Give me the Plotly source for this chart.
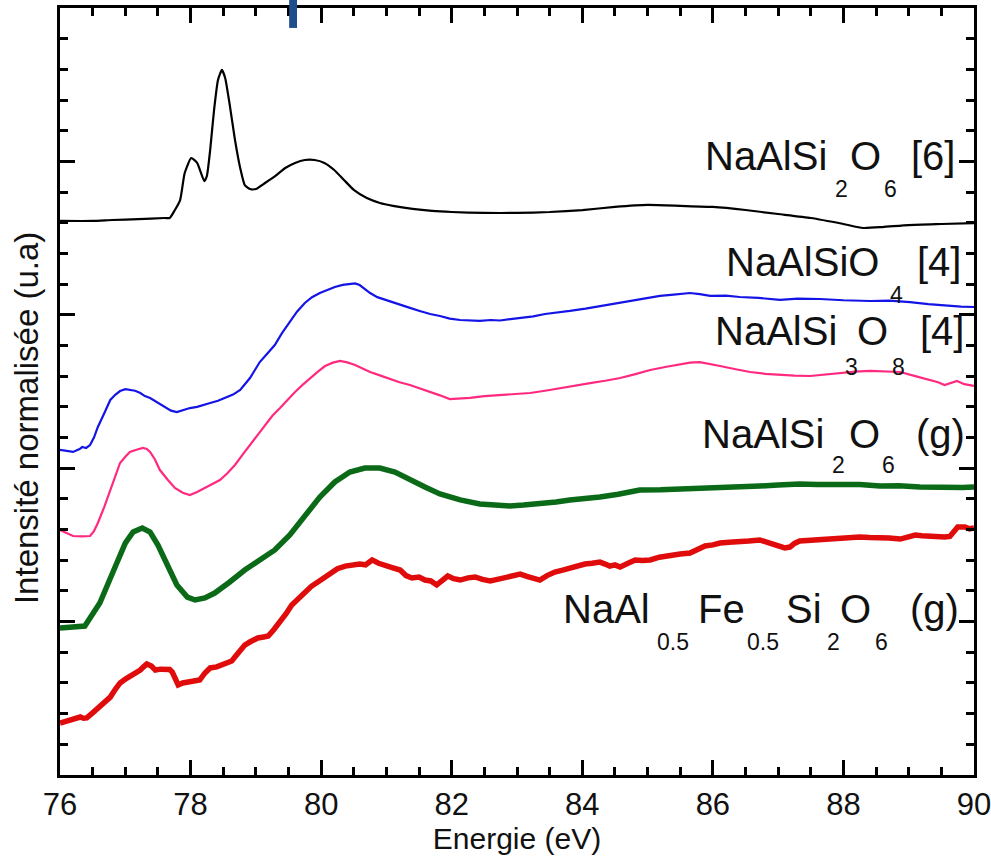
import plotly.graph_objects as go

# ---- Spectra: energy (eV) and normalised intensity (arbitrary units, offset) ----

# NaAlSi2O6 [6]  (crystalline, 6-fold Al)
e_jd6 = [76.00, 76.50, 76.80, 77.20, 77.60, 77.68, 77.76, 77.84, 77.91, 78.01, 78.10,
         78.21, 78.25, 78.30, 78.36, 78.42, 78.48, 78.53, 78.60, 78.68, 78.76, 78.83,
         78.91, 79.00, 79.14, 79.30, 79.45, 79.60, 79.75, 79.90, 80.05, 80.20, 80.35,
         80.50, 80.70, 80.90, 81.10, 81.40, 81.70, 82.00, 82.50, 83.00, 83.50, 84.00,
         84.50, 85.00, 85.50, 86.00, 86.50, 87.00, 87.50, 88.00, 88.30, 88.60, 89.00,
         89.50, 90.00]
i_jd6 = [3.612, 3.612, 3.618, 3.624, 3.631, 3.631, 3.683, 3.748, 3.924, 4.022, 3.990,
         3.872, 3.905, 4.074, 4.335, 4.531, 4.596, 4.544, 4.368, 4.140, 3.957, 3.846,
         3.820, 3.820, 3.859, 3.905, 3.957, 3.990, 4.009, 4.009, 3.990, 3.944, 3.879,
         3.814, 3.761, 3.729, 3.710, 3.690, 3.677, 3.670, 3.664, 3.664, 3.670, 3.683,
         3.703, 3.716, 3.710, 3.703, 3.683, 3.657, 3.631, 3.592, 3.566, 3.572, 3.585,
         3.592, 3.598]

# NaAlSiO4 [4]
e_ne4 = [76.00, 76.10, 76.20, 76.30, 76.34, 76.40, 76.46, 76.52, 76.58, 76.68, 76.77,
         76.85, 76.92, 77.00, 77.07, 77.15, 77.23, 77.30, 77.38, 77.50, 77.61, 77.70,
         77.79, 77.88, 77.99, 78.10, 78.20, 78.30, 78.42, 78.53, 78.65, 78.76, 78.85,
         78.91, 79.00, 79.06, 79.18, 79.29, 79.40, 79.52, 79.63, 79.75, 79.86, 79.98,
         80.10, 80.21, 80.33, 80.44, 80.52, 80.59, 80.67, 80.75, 80.86, 80.98, 81.10,
         81.21, 81.36, 81.51, 81.67, 81.82, 81.97, 82.13, 82.28, 82.43, 82.60, 82.74,
         82.90, 83.05, 83.25, 83.43, 83.60, 83.81, 84.05, 84.27, 84.50, 84.73, 84.95,
         85.19, 85.40, 85.65, 85.80, 85.96, 86.20, 86.41, 86.70, 87.03, 87.30, 87.64,
         88.00, 88.41, 88.70, 89.02, 89.30, 89.63, 89.80, 90.00]
i_ne4 = [2.119, 2.113, 2.106, 2.125, 2.138, 2.132, 2.151, 2.200, 2.269, 2.360, 2.445,
         2.480, 2.503, 2.515, 2.510, 2.505, 2.490, 2.470, 2.458, 2.425, 2.399, 2.375,
         2.366, 2.378, 2.392, 2.400, 2.415, 2.425, 2.440, 2.458, 2.480, 2.510, 2.560,
         2.588, 2.650, 2.692, 2.750, 2.803, 2.880, 2.953, 3.020, 3.077, 3.115, 3.142,
         3.165, 3.181, 3.195, 3.201, 3.205, 3.194, 3.170, 3.142, 3.115, 3.097, 3.080,
         3.064, 3.045, 3.025, 3.005, 2.992, 2.975, 2.966, 2.962, 2.960, 2.966, 2.963,
         2.972, 2.979, 2.990, 3.005, 3.012, 3.025, 3.040, 3.057, 3.070, 3.090, 3.105,
         3.123, 3.132, 3.142, 3.135, 3.123, 3.125, 3.116, 3.110, 3.097, 3.105, 3.103,
         3.095, 3.090, 3.092, 3.083, 3.070, 3.057, 3.053, 3.051]

# NaAlSi3O8 [4]
e_ab4 = [76.00, 76.10, 76.20, 76.33, 76.46, 76.52, 76.58, 76.68, 76.77, 76.85, 76.92,
         77.00, 77.07, 77.17, 77.27, 77.33, 77.38, 77.45, 77.53, 77.65, 77.76, 77.88,
         77.99, 78.10, 78.22, 78.33, 78.45, 78.56, 78.68, 78.80, 78.91, 79.03, 79.14,
         79.25, 79.37, 79.48, 79.60, 79.72, 79.83, 79.95, 80.06, 80.18, 80.29, 80.40,
         80.52, 80.63, 80.75, 80.90, 81.05, 81.20, 81.36, 81.52, 81.67, 81.82, 81.97,
         82.13, 82.28, 82.50, 82.74, 82.97, 83.20, 83.43, 83.66, 83.90, 84.12, 84.35,
         84.58, 84.80, 85.04, 85.27, 85.50, 85.65, 85.80, 85.96, 86.11, 86.35, 86.57,
         86.80, 87.03, 87.25, 87.49, 87.70, 87.95, 88.18, 88.41, 88.65, 88.87, 89.10,
         89.33, 89.45, 89.55, 89.65, 89.74, 89.85, 90.00]
i_ab4 = [1.597, 1.575, 1.558, 1.555, 1.558, 1.590, 1.643, 1.750, 1.858, 1.950, 2.034,
         2.075, 2.106, 2.120, 2.132, 2.125, 2.106, 2.060, 1.988, 1.925, 1.871, 1.840,
         1.825, 1.845, 1.871, 1.895, 1.923, 1.965, 2.021, 2.090, 2.151, 2.220, 2.282,
         2.340, 2.392, 2.445, 2.497, 2.545, 2.588, 2.630, 2.666, 2.688, 2.699, 2.690,
         2.673, 2.650, 2.627, 2.605, 2.582, 2.560, 2.542, 2.520, 2.497, 2.475, 2.451,
         2.455, 2.458, 2.470, 2.477, 2.482, 2.490, 2.505, 2.523, 2.538, 2.555, 2.570,
         2.588, 2.612, 2.640, 2.660, 2.679, 2.688, 2.692, 2.680, 2.666, 2.645, 2.627,
         2.615, 2.608, 2.603, 2.601, 2.610, 2.621, 2.630, 2.634, 2.630, 2.627, 2.600,
         2.575, 2.560, 2.542, 2.555, 2.569, 2.548, 2.536]

# NaAlSi2O6 (g)
e_jdg = [76.00, 76.38, 76.61, 76.77, 76.87, 77.00, 77.12, 77.26, 77.38, 77.50, 77.64,
         77.79, 77.95, 78.07, 78.22, 78.37, 78.60, 78.83, 79.06, 79.29, 79.52, 79.75,
         79.98, 80.21, 80.44, 80.67, 80.90, 81.13, 81.36, 81.59, 81.82, 82.13, 82.43,
         82.65, 82.89, 83.10, 83.35, 83.60, 83.81, 84.05, 84.27, 84.55, 84.88, 85.20,
         85.50, 85.80, 86.11, 86.40, 86.72, 87.00, 87.33, 87.60, 87.95, 88.25, 88.56,
         88.85, 89.17, 89.40, 89.63, 89.82, 90.00]
i_jdg = [0.958, 0.971, 1.121, 1.271, 1.382, 1.512, 1.584, 1.610, 1.584, 1.499, 1.369,
         1.239, 1.160, 1.141, 1.154, 1.186, 1.258, 1.336, 1.402, 1.467, 1.565, 1.695,
         1.812, 1.910, 1.975, 2.001, 2.001, 1.975, 1.923, 1.877, 1.832, 1.793, 1.767,
         1.760, 1.754, 1.760, 1.767, 1.780, 1.793, 1.800, 1.812, 1.830, 1.858, 1.860,
         1.864, 1.870, 1.877, 1.872, 1.884, 1.890, 1.897, 1.893, 1.897, 1.893, 1.884,
         1.886, 1.877, 1.874, 1.871, 1.875, 1.877]

# NaAl0.5Fe0.5Si2O6 (g)
e_fe = [76.00, 76.08, 76.15, 76.23, 76.31, 76.36, 76.41, 76.50, 76.61, 76.70, 76.77,
        76.85, 76.92, 77.02, 77.12, 77.18, 77.23, 77.28, 77.33, 77.40, 77.46, 77.54,
        77.61, 77.68, 77.72, 77.77, 77.81, 77.88, 77.96, 78.05, 78.14, 78.22, 78.30,
        78.40, 78.48, 78.55, 78.63, 78.72, 78.83, 78.92, 79.03, 79.12, 79.19, 79.28,
        79.37, 79.46, 79.55, 79.65, 79.75, 79.85, 79.95, 80.05, 80.14, 80.25, 80.37,
        80.48, 80.59, 80.68, 80.78, 80.88, 80.98, 81.10, 81.21, 81.30, 81.39, 81.50,
        81.59, 81.68, 81.77, 81.85, 81.94, 82.03, 82.13, 82.25, 82.36, 82.47, 82.59,
        82.70, 82.82, 82.93, 83.05, 83.15, 83.25, 83.35, 83.46, 83.58, 83.70, 83.81,
        83.92, 84.04, 84.15, 84.27, 84.35, 84.42, 84.50, 84.58, 84.70, 84.81, 84.92,
        85.04, 85.18, 85.34, 85.50, 85.65, 85.76, 85.88, 86.00, 86.11, 86.25, 86.41,
        86.55, 86.72, 86.85, 87.03, 87.10, 87.18, 87.25, 87.33, 87.49, 87.64, 87.80,
        87.95, 88.10, 88.25, 88.40, 88.56, 88.70, 88.87, 88.98, 89.10, 89.20, 89.33,
        89.45, 89.55, 89.63, 89.70, 89.75, 89.86, 89.93, 90.00]
i_fe = [0.339, 0.350, 0.359, 0.372, 0.378, 0.370, 0.372, 0.405, 0.443, 0.480, 0.508,
        0.560, 0.600, 0.630, 0.652, 0.665, 0.684, 0.705, 0.724, 0.710, 0.684, 0.690,
        0.691, 0.688, 0.671, 0.610, 0.587, 0.600, 0.606, 0.612, 0.619, 0.665, 0.698,
        0.705, 0.717, 0.730, 0.743, 0.790, 0.847, 0.870, 0.893, 0.900, 0.906, 0.950,
        0.997, 1.050, 1.108, 1.150, 1.193, 1.230, 1.258, 1.290, 1.317, 1.345, 1.362,
        1.368, 1.375, 1.370, 1.402, 1.380, 1.362, 1.350, 1.336, 1.300, 1.284, 1.290,
        1.271, 1.265, 1.239, 1.265, 1.297, 1.280, 1.271, 1.285, 1.291, 1.275, 1.265,
        1.275, 1.284, 1.300, 1.310, 1.295, 1.280, 1.271, 1.300, 1.323, 1.335, 1.349,
        1.360, 1.375, 1.380, 1.388, 1.375, 1.362, 1.370, 1.356, 1.380, 1.402, 1.398,
        1.402, 1.420, 1.434, 1.440, 1.447, 1.470, 1.493, 1.500, 1.512, 1.518, 1.519,
        1.525, 1.532, 1.515, 1.486, 1.480, 1.486, 1.510, 1.525, 1.530, 1.532, 1.535,
        1.538, 1.545, 1.551, 1.548, 1.551, 1.545, 1.538, 1.552, 1.564, 1.560, 1.558,
        1.548, 1.551, 1.555, 1.600, 1.617, 1.617, 1.605, 1.610]

# Curve labels: (text, is_subscript) pieces
lab_jd6 = [("NaAlSi", False), ("2", True), ("O", False), ("6", True), ("[6]", False)]
lab_ne4 = [("NaAlSiO", False), ("4", True), ("[4]", False)]
lab_ab4 = [("NaAlSi", False), ("3", True), ("O", False), ("8", True), ("[4]", False)]
lab_jdg = [("NaAlSi", False), ("2", True), ("O", False), ("6", True), ("(g)", False)]
lab_fe = [("NaAl", False), ("0.5", True), ("Fe", False), ("0.5", True), ("Si", False),
          ("2", True), ("O", False), ("6", True), ("(g)", False)]

x_label = "Energie (eV)"
y_label = "Intensité normalisée (u.a)"
x_ticks = [76, 78, 80, 82, 84, 86, 88, 90]

# ---- Styling / placement ----
FONT = "Liberation Sans, Arial, Helvetica, sans-serif"
series = [
    (e_jd6, i_jd6, "#000000", 2.2, "spline"),
    (e_ne4, i_ne4, "#1414e6", 2.2, "linear"),
    (e_ab4, i_ab4, "#ff2a7f", 2.2, "linear"),
    (e_jdg, i_jdg, "#0b6a17", 5.5, "linear"),
    (e_fe, i_fe, "#e00c0c", 5.5, "linear"),
]
# label placement: piece left edges (eV), main-text and subscript centre heights
label_place = [
    (lab_jd6, [85.85, 87.84, 88.07, 88.59, 89.00], 4.032, 3.817),
    (lab_ne4, [86.17, 88.68, 89.10], 3.347, 3.132),
    (lab_ab4, [86.00, 88.00, 88.18, 88.71, 89.14], 2.894, 2.660),
    (lab_jdg, [85.80, 87.79, 88.05, 88.56, 89.08], 2.226, 2.024),
    (lab_fe, [83.68, 85.11, 85.74, 86.49, 87.09, 87.72, 87.91, 88.45, 88.99], 1.079, 0.870),
]
MAIN_SIZE, SUB_SIZE = 40, 23

fig = go.Figure()
for e, i, color, width, shape in series:
    line = dict(color=color, width=width, shape=shape)
    if shape == "spline":
        line["smoothing"] = 0.5
    fig.add_trace(go.Scatter(x=e, y=i, mode="lines", showlegend=False, hoverinfo="skip",
                             line=line))

annotations = []
for pieces, xs, y_main, y_sub in label_place:
    for (txt, is_sub), x in zip(pieces, xs):
        annotations.append(dict(
            x=x, y=y_sub if is_sub else y_main, xref="x", yref="y",
            text=txt, showarrow=False, xanchor="left", yanchor="middle",
            font=dict(family=FONT, size=SUB_SIZE if is_sub else MAIN_SIZE, color="#111111")))

annotations.append(dict(
    x=-0.036, y=0.4655, xref="paper", yref="paper", text=y_label, textangle=-90,
    showarrow=False, xanchor="center", yanchor="middle",
    font=dict(family=FONT, size=33, color="#111111")))

axis_common = dict(
    ticks="inside", ticklen=15, tickwidth=2.5, tickcolor="black",
    showline=True, linewidth=2.5, linecolor="black", mirror="ticks",
    showgrid=False, zeroline=False, automargin=False,
)

fig.update_layout(
    width=991, height=859,
    margin=dict(l=60, r=17, t=8, b=84),
    paper_bgcolor="white", plot_bgcolor="white",
    font=dict(family=FONT, color="#111111"),
    annotations=annotations,
    xaxis=dict(
        range=[76, 90], tickvals=x_ticks, ticktext=[str(t) for t in x_ticks],
        ticklabeloverflow="allow",
        tickfont=dict(family=FONT, size=31, color="#111111"),
        minor=dict(dtick=0.5, tick0=76, ticks="inside", ticklen=8, tickwidth=2.5,
                   tickcolor="black", showgrid=False),
        title=dict(text=x_label, font=dict(family=FONT, size=30, color="#111111"),
                   standoff=2),
        **axis_common),
    yaxis=dict(
        range=[0, 5], dtick=1, tick0=0, showticklabels=False,
        minor=dict(dtick=0.2, tick0=0, ticks="inside", ticklen=8, tickwidth=2.5,
                   tickcolor="black", showgrid=False),
        **axis_common),
    shapes=[dict(type="rect", xref="x", yref="paper", x0=79.51, x1=79.63,
                 y0=0.974, y1=1.02, fillcolor="#1f4e8c", line=dict(width=0),
                 layer="above")],
)

fig.write_html("out.html")
